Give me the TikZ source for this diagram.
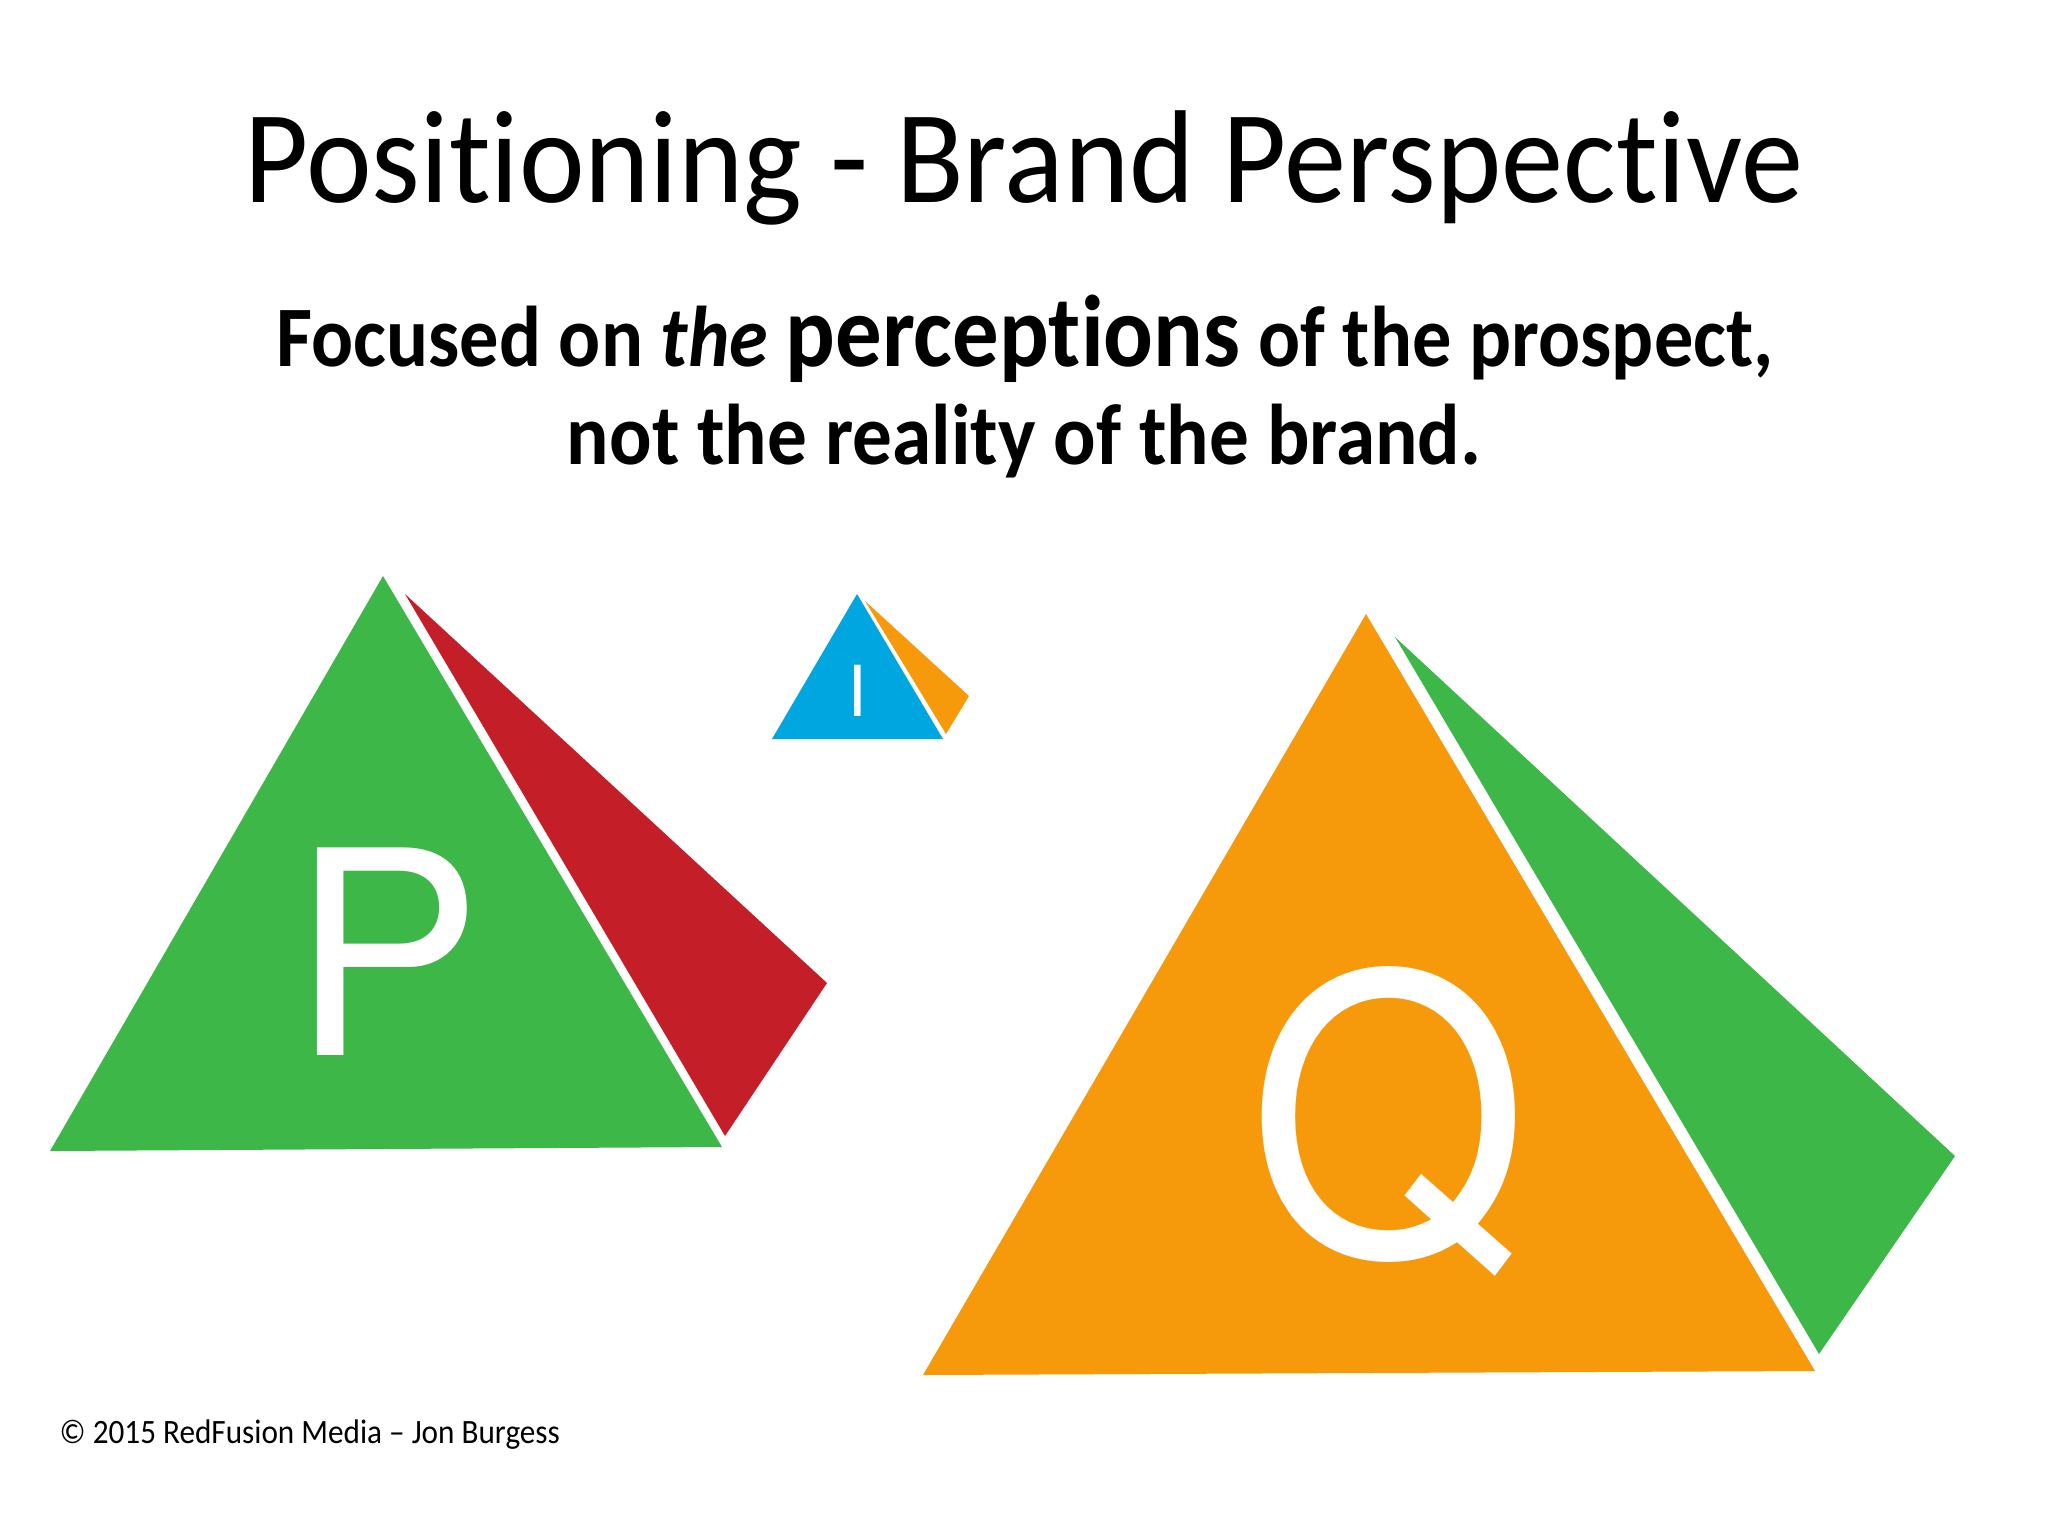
\documentclass[tikz,border=0pt]{standalone}
\usepackage{fontspec}
\setmainfont{Carlito}[Ligatures=NoCommon]
\newfontfamily\letterfont{TeX Gyre Heros}
\usetikzlibrary{positioning}

\definecolor{pgreen}{RGB}{61,183,72}
\definecolor{pred}{RGB}{196,30,41}
\definecolor{porange}{RGB}{246,153,10}
\definecolor{pblue}{RGB}{0,166,224}

\newcommand{\narrowtext}[2]{\scalebox{#1}[1]{#2}}

\begin{document}
\begin{tikzpicture}[x=0.01cm,y=-0.01cm]
  \tikzstyle{face}=[line join=miter]
  \tikzstyle{letter}=[text=white,anchor=base,inner sep=0pt]
  \tikzstyle{heading}=[anchor=base,inner sep=0pt,text=black]

  \useasboundingbox[fill=white] (0,0) rectangle (2048,1536);

  \node[heading,font=\fontsize{37.6}{45}\selectfont] (title) at (1024,202)
       {\narrowtext{0.94}{Positioning - Brand Perspective}};
  \node[heading,font=\bfseries\fontsize{24.5}{29}\selectfont] (line1) at (1025,366)
       {\narrowtext{0.91}{Focused on \textit{the} {\fontsize{29}{34}\selectfont perceptions} of the prospect,}};
  \node[heading,font=\bfseries\fontsize{24.5}{29}\selectfont] (line2) at (1024,464)
       {\narrowtext{0.92}{not the reality of the brand.}};

  \fill[face,pgreen] (383,576) -- (50,1151) -- (722,1147) -- cycle;
  \fill[face,pred]   (405,594) -- (827,983) -- (725,1136) -- cycle;
  \node[letter,font=\letterfont\fontsize{81}{90}\selectfont] (P) at (386,1055) {P};

  \fill[face,pblue]   (857,594) -- (772,739) -- (943,739) -- cycle;
  \fill[face,porange] (865,601) -- (969,696) -- (946,734) -- cycle;
  \node[letter,font=\letterfont\fontsize{20}{24}\selectfont] (I) at (857,716) {I};

  \fill[face,porange] (1366,614) -- (923,1375) -- (1815,1371) -- cycle;
  \fill[face,pgreen]  (1395,637) -- (1955,1156) -- (1819,1354) -- cycle;
  \node[letter,font=\letterfont\fontsize{110}{120}\selectfont] (Q) at (1388,1255) {\narrowtext{0.93}{Q}};

  \node[anchor=base west,inner sep=0pt,font=\fontsize{9.7}{12}\selectfont] (copy) at (59,1443)
       {\narrowtext{0.915}{© 2015 RedFusion Media – Jon Burgess}};
\end{tikzpicture}
\end{document}
